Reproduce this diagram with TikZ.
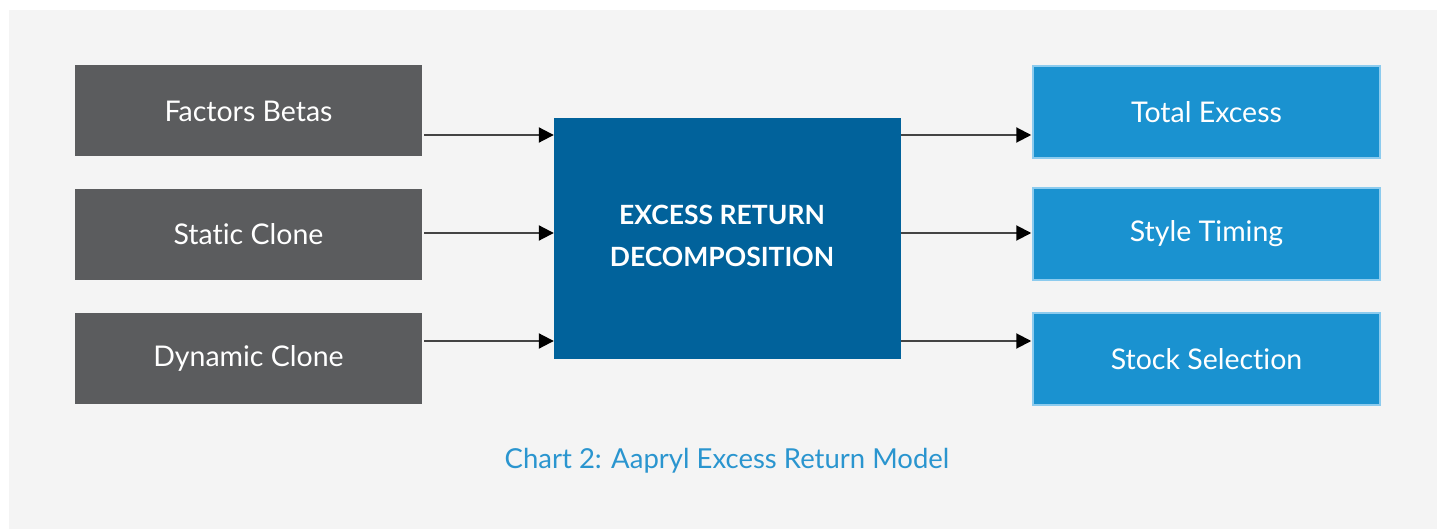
\documentclass[tikz,border=0pt]{standalone}
\usepackage{fontspec}
\setmainfont{Lato}[Ligatures={NoCommon}]
\usepackage{tikz}
\usetikzlibrary{arrows.meta,positioning}
\definecolor{panelgrey}{HTML}{F4F4F4}
\definecolor{inputgrey}{HTML}{5B5C5E}
\definecolor{coreblue}{HTML}{01629B}
\definecolor{outblue}{HTML}{1A92D0}
\definecolor{outedge}{HTML}{8CCBEE}
\definecolor{linegrey}{HTML}{444444}
\definecolor{captionblue}{HTML}{2A95CF}

\begin{document}
\begin{tikzpicture}[x=1pt,y=-1pt,
  inbox/.style={fill=inputgrey,text=white,minimum width=347pt,minimum height=91pt,
    font=\fontsize{28.5}{32}\selectfont,inner sep=0pt},
  outbox/.style={fill=outblue,draw=outedge,line width=1.5pt,text=white,
    minimum width=347pt,minimum height=92pt,font=\fontsize{28.5}{32}\selectfont,inner sep=0pt},
  corebox/.style={fill=coreblue,minimum width=347pt,minimum height=241pt,inner sep=0pt},
  coretext/.style={text=white,align=center,font=\bfseries\fontsize{26.5}{42}\selectfont},
  flow/.style={draw=linegrey,line width=2pt,-{Triangle[length=15pt,width=15pt,color=black]}}]
\useasboundingbox (0,0) rectangle (1437,529);
\fill[panelgrey] (9,10) rectangle (1437,529);

% inputs
\node[inbox] (fb) at (248.5,111) {Factors Betas};
\node[inbox] (sc) at (248.5,234.5) {Static Clone};
\node[inbox] (dc) at (248.5,358.5) {Dynamic Clone};

% model
\node[corebox] (dec) at (727.5,238.5) {};
\node[coretext] (dectext) at (722,236) {EXCESS RETURN\\DECOMPOSITION};

% outputs
\node[outbox] (te) at (1206.5,112) {Total Excess};
\node[outbox] (st) at (1206.5,234) {Style Timing};
\node[outbox] (ss) at (1206.5,359) {Stock Selection};

\draw[flow] ([xshift=2pt]fb.east |- 0,135) -- (dec.west |- 0,135);
\draw[flow] ([xshift=2pt]sc.east |- 0,233) -- (dec.west |- 0,233);
\draw[flow] ([xshift=2pt]dc.east |- 0,341) -- (dec.west |- 0,341);
\draw[flow] (dec.east |- 0,135) -- ([xshift=-1pt]te.west |- 0,135);
\draw[flow] (dec.east |- 0,233) -- ([xshift=-1pt]st.west |- 0,233);
\draw[flow] (dec.east |- 0,341) -- ([xshift=-1pt]ss.west |- 0,341);

\node[text=captionblue,font=\fontsize{27.5}{32}\selectfont] (cap) at (727,461) {Chart 2: Aapryl Excess Return Model};
\end{tikzpicture}
\end{document}
